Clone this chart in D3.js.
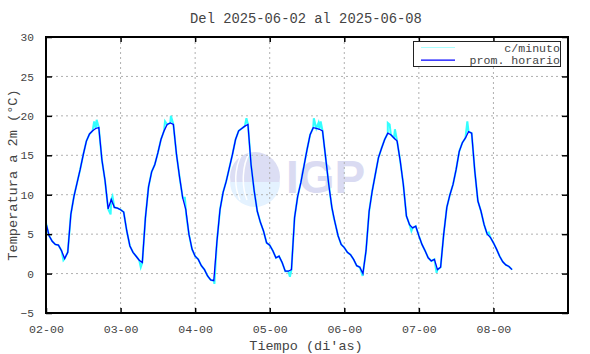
<!DOCTYPE html>
<html>
<head>
<meta charset="utf-8">
<script src="https://cdn.jsdelivr.net/npm/d3@7"></script>
<style>
  body { margin: 0; background: #fff; }
  svg text { font-family: "Liberation Mono", "DejaVu Sans Mono", monospace; fill: #444; }
</style>
</head>
<body>
<div id="chart"></div>
<script>
// DATA
// hourly mean temperature, hour 0 = 2025-06-02 00:00
const hourly = [
  6.4, 4.8, 4.1, 3.7, 3.6, 2.9, 1.9, 2.7, 7.5, 9.8, 11.5, 13.2, 15.1, 16.8, 17.7, 18.1, 18.4, 18.5, 14.4, 11.8, 8.2, 9.4, 8.4, 8.3,
  8.1, 7.8, 5.4, 3.5, 2.7, 2.2, 1.7, 1.4, 7.1, 11.0, 12.9, 13.8, 15.3, 17.0, 18.1, 18.9, 19.1, 18.9, 15.1, 12.2, 9.6, 8.1, 5.0, 3.1,
  2.2, 1.8, 1.0, 0.5, -0.3, -0.8, -0.9, 4.0, 8.1, 10.3, 11.7, 13.4, 15.1, 17.0, 18.1, 18.4, 18.7, 18.9, 13.8, 10.5, 7.9, 6.5, 5.4, 3.9,
  3.6, 2.9, 2.0, 2.2, 1.4, 0.3, 0.3, 0.5, 7.1, 9.8, 11.5, 13.6, 15.7, 17.6, 18.5, 18.4, 18.3, 18.1, 14.7, 11.3, 8.4, 6.5, 4.8, 3.7,
  3.3, 2.7, 2.4, 1.8, 1.0, 0.8, 0.0, 2.9, 7.9, 10.5, 12.6, 14.7, 15.9, 17.0, 17.8, 17.6, 17.2, 16.8, 14.3, 11.3, 7.3, 6.2, 5.8, 6.0,
  4.8, 3.7, 2.9, 2.0, 1.6, 1.8, 0.5, 0.8, 5.0, 8.4, 10.0, 11.3, 13.2, 15.5, 16.6, 17.2, 18.0, 17.8, 13.0, 9.2, 7.9, 6.2, 5.0, 4.6,
  3.9, 3.1, 2.2, 1.5, 1.1, 0.9, 0.5
];
// visible per-minute excursions: [hour, value]
const minuteSpikes = [
  [5.6, 1.7], [15.5, 19.3], [16.3, 19.5], [20.8, 7.5], [21.4, 9.8], [30.5, 0.8], [38.3, 19.3], [40.2, 20.0],
  [44.7, 9.6], [45.1, 7.5], [54.2, -1.3], [64.5, 19.7], [78.5, -0.4], [86.2, 19.7], [87.7, 19.1], [88.4, 19.3],
  [92.6, 7.1], [101.9, -0.3], [110, 19.1], [110.6, 18.9], [112.3, 18.3], [117.6, 5.4], [125.7, 0.1],
  [135.6, 19.3], [142.5, 5.2]
];
const dayLabels = ["02-00", "03-00", "04-00", "05-00", "06-00", "07-00", "08-00"];
const yTicks = [-5, 0, 5, 10, 15, 20, 25, 30];
const seriesNames = ["c/minuto", "prom. horario"];
const seriesColors = ["#33ffff", "#0000ff"];

const width = 590;
const height = 354;
const margin = ({ top: 37, right: 22, bottom: 41, left: 46 });

const hourlyPts = hourly.map((v, i) => [i, v]);
const minutePts = hourlyPts.concat(minuteSpikes).sort((a, b) => a[0] - b[0]);

const x = d3.scaleLinear()
    .domain([0, 168])
    .range([margin.left, width - margin.right]);

const y = d3.scaleLinear()
    .domain([-5, 30])
    .range([height - margin.bottom, margin.top]);

const svg = d3.select("#chart")
    .append("svg")
    .attr("width", width)
    .attr("height", height);

// watermark (IGP logo, faint)
const wm = svg.append("g");
wm.append("circle").attr("cx", 255).attr("cy", 177).attr("r", 25).attr("fill", "#dcdef4");
wm.append("path")
    .attr("d", "M230,182 A25,25 0 0 0 280,182 Z")
    .attr("fill", "#e4f2ff");
[8, 15, 22].forEach(r => {
    wm.append("path")
        .attr("d", `M${255 - r},${200} A${r},${r + 8} 0 0 1 ${255 + r + 10},${158}`)
        .attr("fill", "none").attr("stroke", "#fff").attr("stroke-width", 1.5);
});
wm.append("text")
    .attr("x", 286).attr("y", 193)
    .attr("style", "font-family: 'Liberation Sans', Arial, sans-serif; font-weight: bold; font-size: 46px; fill: #dadbf2")
    .text("IGP");

// grid
const dayTicks = d3.range(1, 7).map(d => d * 24);
svg.append("g")
    .selectAll("line")
    .data(dayTicks)
    .join("line")
    .attr("x1", d => x(d)).attr("x2", d => x(d))
    .attr("y1", margin.top).attr("y2", height - margin.bottom)
    .attr("stroke", "#b0b0b0").attr("stroke-dasharray", "2,3");
svg.append("g")
    .selectAll("line")
    .data(yTicks.slice(1, -1))
    .join("line")
    .attr("x1", margin.left).attr("x2", width - margin.right)
    .attr("y1", d => y(d)).attr("y2", d => y(d))
    .attr("stroke", "#b0b0b0").attr("stroke-dasharray", "2,3");

// lines
const line = d3.line().x(d => x(d[0])).y(d => y(d[1]));
svg.append("path")
    .datum(minutePts)
    .attr("fill", "none").attr("stroke", seriesColors[0]).attr("stroke-width", 2)
    .attr("d", line);
svg.append("path")
    .datum(hourlyPts)
    .attr("fill", "none").attr("stroke", seriesColors[1]).attr("stroke-width", 1.3)
    .attr("d", line);

// axes (ticks pointing inward on all four sides)
const tickStyle = g => g.call(g => g.select(".domain").remove())
    .call(g => g.selectAll(".tick line").attr("stroke", "#000").attr("stroke-width", 1.5));

svg.append("g")
    .attr("transform", `translate(0,${height - margin.bottom})`)
    .call(d3.axisBottom(x).tickValues(d3.range(0, 7).map(d => d * 24))
        .tickSizeInner(-5).tickPadding(12)
        .tickFormat((d, i) => dayLabels[i]))
    .call(tickStyle)
    .call(g => g.selectAll("text").attr("font-size", 11.6).attr("fill", "#555"));

svg.append("g")
    .attr("transform", `translate(0,${margin.top})`)
    .call(d3.axisTop(x).tickValues(dayTicks).tickSizeInner(-5).tickFormat(() => ""))
    .call(tickStyle);

svg.append("g")
    .attr("transform", `translate(${margin.left},0)`)
    .call(d3.axisLeft(y).tickValues(yTicks).tickSizeInner(-6).tickPadding(12))
    .call(tickStyle)
    .call(g => g.selectAll("text").attr("font-size", 11.2).attr("fill", "#555"));

svg.append("g")
    .attr("transform", `translate(${width - margin.right},0)`)
    .call(d3.axisRight(y).tickValues(yTicks).tickSizeInner(-6).tickFormat(() => ""))
    .call(tickStyle);

// frame
svg.append("rect")
    .attr("x", margin.left).attr("y", margin.top)
    .attr("width", width - margin.left - margin.right)
    .attr("height", height - margin.top - margin.bottom)
    .attr("fill", "none").attr("stroke", "#000").attr("stroke-width", 2);

// title and axis labels
svg.append("text")
    .attr("x", 306).attr("y", 23).attr("text-anchor", "middle")
    .attr("font-size", 13.8)
    .text("Del 2025-06-02 al 2025-06-08");

svg.append("text")
    .attr("x", 306).attr("y", 350).attr("text-anchor", "middle")
    .attr("font-size", 13.5)
    .text("Tiempo (di'as)");

svg.append("text")
    .attr("transform", `translate(17,${175}) rotate(-90)`)
    .attr("text-anchor", "middle")
    .attr("font-size", 13.6)
    .text("Temperatura a 2m (°C)");

// legend
const legend = svg.append("g");
legend.append("rect")
    .attr("x", 413.5).attr("y", 41.5).attr("width", 147).attr("height", 25)
    .attr("fill", "#fff").attr("stroke", "#222").attr("stroke-width", 1);
seriesNames.forEach((name, i) => {
    const ly = 47.5 + i * 12.6;
    legend.append("line")
        .attr("x1", 421).attr("x2", 455).attr("y1", ly).attr("y2", ly)
        .attr("stroke", i === 0 ? "#aaffff" : seriesColors[1]).attr("stroke-width", i === 0 ? 1 : 1.4);
    legend.append("text")
        .attr("x", 560).attr("y", ly + 4)
        .attr("text-anchor", "end")
        .attr("font-size", 11.6)
        .text(name);
});
</script>
</body>
</html>
